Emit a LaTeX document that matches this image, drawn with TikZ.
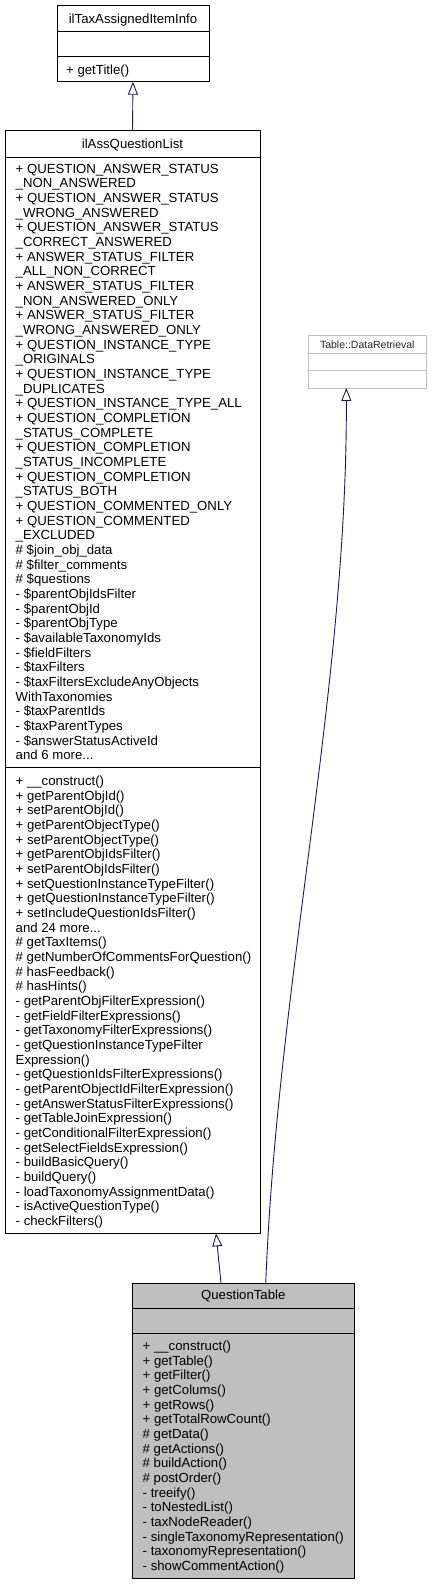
\documentclass[tikz,border=0pt]{standalone}
\usepackage{fontspec}
\setmainfont{Liberation Sans}
\usetikzlibrary{arrows.meta,calc}
\definecolor{edgeblue}{HTML}{191970}
\definecolor{boxgray}{HTML}{BFBFBF}
\definecolor{extgray}{HTML}{BFBFBF}
\newcommand{\mydots}{.\relax.\relax.}
\begin{document}
\begin{tikzpicture}[x=1pt,y=-1pt,
  box/.style={draw=black, line width=1pt, inner sep=0, outer sep=0, rectangle},
  extbox/.style={draw=extgray, line width=1pt, inner sep=0, outer sep=0, rectangle},
  txt/.style={anchor=base west, inner sep=0, font=\fontsize{13.2}{14.67}\selectfont, text=black},
  ttl/.style={anchor=base, inner sep=0, font=\fontsize{13.2}{14.67}\selectfont, text=black},
  smallttl/.style={anchor=base, inner sep=0, font=\fontsize{10.5}{12}\selectfont, text=black!85},
  divider/.style={draw=black, line width=1pt},
  extdivider/.style={draw=extgray, line width=1pt},
  inh/.style={draw=edgeblue, line width=0.9pt, -{Triangle[open, length=13pt, width=10pt, fill=white]}}
]
\useasboundingbox (0,0) rectangle (432,1585);

% ---- ilTaxAssignedItemInfo
\node[box, minimum width=152pt, minimum height=76pt] (itai) at (133,43.7) {};
\draw[divider] (itai.west |- 0,31.7) -- (itai.east |- 0,31.7);
\draw[divider] (itai.west |- 0,56.7) -- (itai.east |- 0,56.7);
\node[ttl] (itaiT) at (133,23) {ilTaxAssignedItemInfo};
\node[txt] (itaiM1) at (66,74) {+ getTitle()};

% ---- ilAssQuestionList
\node[box, minimum width=255pt, minimum height=1103.3pt] (iaql) at (132.5,681.65) {};
\draw[divider] (iaql.west |- 0,157.7) -- (iaql.east |- 0,157.7);
\draw[divider] (iaql.west |- 0,767.7) -- (iaql.east |- 0,767.7);
\node[ttl] (iaqlT) at (132.5,148.3) {ilAssQuestionList};
\foreach \t [count=\i] in {
  + QUESTION\_ANSWER\_STATUS, \_NON\_ANSWERED,
  + QUESTION\_ANSWER\_STATUS, \_WRONG\_ANSWERED,
  + QUESTION\_ANSWER\_STATUS, \_CORRECT\_ANSWERED,
  + ANSWER\_STATUS\_FILTER, \_ALL\_NON\_CORRECT,
  + ANSWER\_STATUS\_FILTER, \_NON\_ANSWERED\_ONLY,
  + ANSWER\_STATUS\_FILTER, \_WRONG\_ANSWERED\_ONLY,
  + QUESTION\_INSTANCE\_TYPE, \_ORIGINALS,
  + QUESTION\_INSTANCE\_TYPE, \_DUPLICATES,
  + QUESTION\_INSTANCE\_TYPE\_ALL,
  + QUESTION\_COMPLETION, \_STATUS\_COMPLETE,
  + QUESTION\_COMPLETION, \_STATUS\_INCOMPLETE,
  + QUESTION\_COMPLETION, \_STATUS\_BOTH,
  + QUESTION\_COMMENTED\_ONLY,
  + QUESTION\_COMMENTED, \_EXCLUDED,
  \# \$join\_obj\_data,
  \# \$filter\_comments,
  \# \$questions,
  - \$parentObjIdsFilter,
  - \$parentObjId,
  - \$parentObjType,
  - \$availableTaxonomyIds,
  - \$fieldFilters,
  - \$taxFilters,
  - \$taxFiltersExcludeAnyObjects,
  WithTaxonomies,
  - \$taxParentIds,
  - \$taxParentTypes,
  - \$answerStatusActiveId,
  and 6 more\mydots}
  \node[txt] (iaqlA\i) at (15.5,{173+(\i-1)*14.67}) {\t};
\foreach \t [count=\i] in {
  + \_\_construct(),
  + getParentObjId(),
  + setParentObjId(),
  + getParentObjectType(),
  + setParentObjectType(),
  + getParentObjIdsFilter(),
  + setParentObjIdsFilter(),
  + setQuestionInstanceTypeFilter(),
  + getQuestionInstanceTypeFilter(),
  + setIncludeQuestionIdsFilter(),
  and 24 more\mydots,
  \# getTaxItems(),
  \# getNumberOfCommentsForQuestion(),
  \# hasFeedback(),
  \# hasHints(),
  - getParentObjFilterExpression(),
  - getFieldFilterExpressions(),
  - getTaxonomyFilterExpressions(),
  - getQuestionInstanceTypeFilter,
  Expression(),
  - getQuestionIdsFilterExpressions(),
  - getParentObjectIdFilterExpression(),
  - getAnswerStatusFilterExpressions(),
  - getTableJoinExpression(),
  - getConditionalFilterExpression(),
  - getSelectFieldsExpression(),
  - buildBasicQuery(),
  - buildQuery(),
  - loadTaxonomyAssignmentData(),
  - isActiveQuestionType(),
  - checkFilters()}
  \node[txt] (iaqlM\i) at (15.5,{785.4+(\i-1)*14.67}) {\t};

% ---- Table::DataRetrieval
\node[extbox, minimum width=117.4pt, minimum height=53pt] (dr) at (367.3,361.5) {};
\draw[extdivider] (dr.west |- 0,353.5) -- (dr.east |- 0,353.5);
\draw[extdivider] (dr.west |- 0,370.7) -- (dr.east |- 0,370.7);
\node[smallttl] (drT) at (367.3,348.2) {Table::DataRetrieval};

% ---- QuestionTable
\node[box, fill=boxgray, minimum width=221.5pt, minimum height=295.4pt] (qt) at (243.25,1431) {};
\draw[divider] (qt.west |- 0,1308.3) -- (qt.east |- 0,1308.3);
\draw[divider] (qt.west |- 0,1333.3) -- (qt.east |- 0,1333.3);
\node[ttl] (qtT) at (243.25,1299.5) {QuestionTable};
\foreach \t [count=\i] in {
  + \_\_construct(),
  + getTable(),
  + getFilter(),
  + getColums(),
  + getRows(),
  + getTotalRowCount(),
  \# getData(),
  \# getActions(),
  \# buildAction(),
  \# postOrder(),
  - treeify(),
  - toNestedList(),
  - taxNodeReader(),
  - singleTaxonomyRepresentation(),
  - taxonomyRepresentation(),
  - showCommentAction()}
  \node[txt] (qtM\i) at (142.5,{1350.4+(\i-1)*14.67}) {\t};

% ---- inheritance edges
\draw[inh] (iaql.north) -- (itai.south);
\draw[inh] ($(qt.north)+(-22.2,0)$) -- ($(iaql.south)+(83.5,0)$);
\draw[inh] ($(qt.north)+(22.5,0)$) .. controls ($(qt.north)+(34,-300)$) and ($(dr.south)+(-20,300)$) .. ($(dr.south)+(-21,0)$);
\end{tikzpicture}
\end{document}
